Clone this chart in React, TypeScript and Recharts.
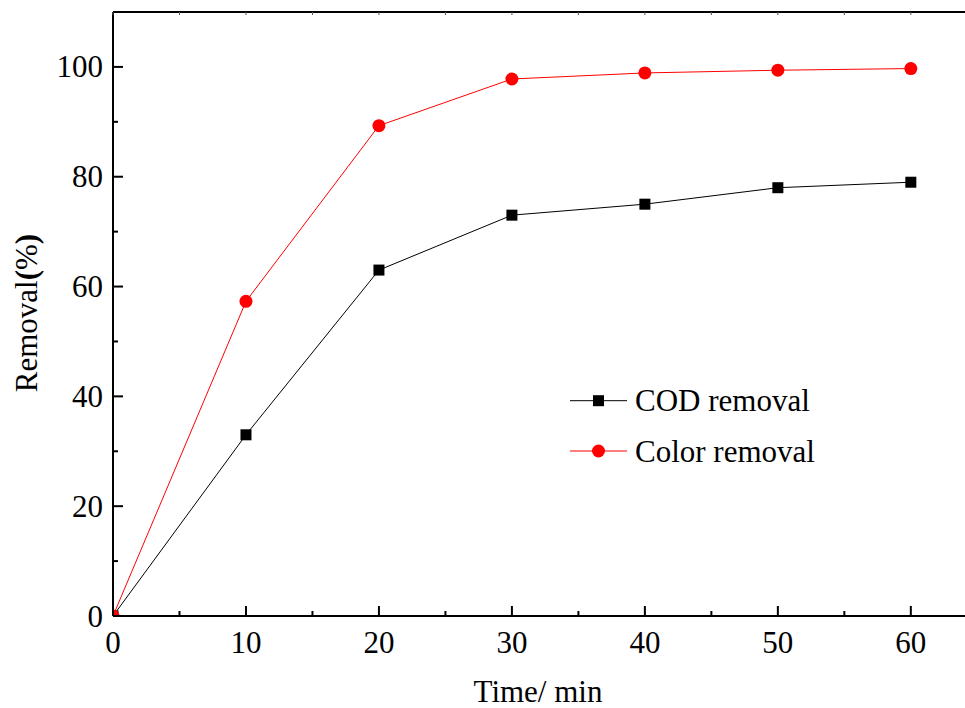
import { Legend, Line, LineChart, XAxis, YAxis } from "recharts";

const times = [0, 10, 20, 30, 40, 50, 60];
const codRemoval = [0, 33, 63, 73, 75, 78, 79];
const colorRemoval = [0, 57.3, 89.3, 97.8, 98.9, 99.4, 99.7];
const xTicks = [0, 5, 10, 15, 20, 25, 30, 35, 40, 45, 50, 55, 60];
const yTicks = [0, 10, 20, 30, 40, 50, 60, 70, 80, 90, 100];
const seriesNames = ["COD removal", "Color removal"];

const data = times.map((t, i) => ({ time: t, cod: codRemoval[i], color: colorRemoval[i] }));

const FONT = '"Liberation Serif", "Times New Roman", serif';

function BottomTick(props: any) {
  const { x, y, payload } = props;
  const major = payload.value % 10 === 0;
  return (
    <g>
      <line x1={x} x2={x} y1={y} y2={y - (major ? 10 : 5)} stroke="#000" strokeWidth={2} />
      {major && (
        <text x={x} y={y + 37} textAnchor="middle" fontFamily={FONT} fontSize={31} fill="#000">
          {payload.value}
        </text>
      )}
    </g>
  );
}

function TopTick(props: any) {
  const { x, y } = props;
  return <line x1={x} x2={x} y1={y} y2={y + 3} stroke="#555" strokeWidth={1} />;
}

function LeftTick(props: any) {
  const { x, y, payload } = props;
  const major = payload.value % 20 === 0;
  return (
    <g>
      <line x1={x} x2={x + (major ? 10 : 5)} y1={y} y2={y} stroke="#000" strokeWidth={2} />
      {major && (
        <text x={x - 10} y={y + 10.5} textAnchor="end" fontFamily={FONT} fontSize={31} fill="#000">
          {payload.value}
        </text>
      )}
    </g>
  );
}

function SquareDot(props: any) {
  const { cx, cy, index } = props;
  return <rect key={`sq-${index}`} x={cx - 5.5} y={cy - 5.5} width={11} height={11} fill="#000" />;
}

function CircleDot(props: any) {
  const { cx, cy, index } = props;
  return <circle key={`ci-${index}`} cx={cx} cy={cy} r={6.5} fill="#ff0000" />;
}

function LegendBox() {
  return (
    <svg width={300} height={110}>
      <line x1={10} x2={67} y1={25.7} y2={25.7} stroke="#000" strokeWidth={1} />
      <rect x={38.5 - 5.5} y={25.7 - 5.5} width={11} height={11} fill="#000" />
      <text x={75} y={36} fontFamily={FONT} fontSize={31} fill="#000">
        {seriesNames[0]}
      </text>
      <line x1={10} x2={67} y1={76} y2={76} stroke="#ff0000" strokeWidth={1} />
      <circle cx={38.5} cy={76} r={6.5} fill="#ff0000" />
      <text x={75} y={86.5} fontFamily={FONT} fontSize={31} fill="#000">
        {seriesNames[1]}
      </text>
    </svg>
  );
}

function YTitle() {
  return (
    <text
      x={37}
      y={313}
      transform="rotate(-90, 37, 313)"
      textAnchor="middle"
      fontFamily={FONT}
      fontSize={31}
      fill="#000"
    >
      Removal<tspan fontWeight="bold">(</tspan>%<tspan fontWeight="bold">)</tspan>
    </text>
  );
}

function XTitle() {
  return (
    <text x={538} y={702} textAnchor="middle" fontFamily={FONT} fontSize={31} fill="#000">
      Time/ min
    </text>
  );
}

export default function App() {
  return (
    <div style={{ position: "absolute", left: 0, top: 0, width: 965, height: 708, overflow: "hidden", background: "#fff" }}>
      <LineChart width={1000} height={708} data={data} margin={{ top: 11, right: 32, bottom: 32, left: 0 }}>
        <XAxis
          dataKey="time"
          type="number"
          domain={[0, 64.3]}
          ticks={xTicks}
          interval={0}
          allowDataOverflow
          height={60}
          tickLine={false}
          tickSize={0}
          tickMargin={0}
          axisLine={{ stroke: "#000", strokeWidth: 2 }}
          tick={<BottomTick />}
          label={<XTitle />}
        />
        <XAxis
          xAxisId="top"
          dataKey="time"
          type="number"
          orientation="top"
          domain={[0, 64.3]}
          ticks={xTicks}
          interval={0}
          allowDataOverflow
          height={1}
          tickLine={false}
          tickSize={0}
          tickMargin={0}
          axisLine={{ stroke: "#000", strokeWidth: 2 }}
          tick={<TopTick />}
        />
        <YAxis
          type="number"
          domain={[0, 110]}
          ticks={yTicks}
          interval={0}
          allowDataOverflow
          width={113}
          tickLine={false}
          tickSize={0}
          tickMargin={0}
          axisLine={{ stroke: "#000", strokeWidth: 2 }}
          tick={<LeftTick />}
          label={<YTitle />}
        />
        <Legend
          layout="horizontal"
          verticalAlign="middle"
          align="center"
          wrapperStyle={{ left: 560, top: 375, width: 300, height: 110 }}
          content={() => <LegendBox />}
        />
        <Line dataKey="cod" stroke="#000" strokeWidth={1} dot={SquareDot} activeDot={false} isAnimationActive={false} />
        <Line dataKey="color" stroke="#ff0000" strokeWidth={1} dot={CircleDot} activeDot={false} isAnimationActive={false} />
      </LineChart>
    </div>
  );
}
